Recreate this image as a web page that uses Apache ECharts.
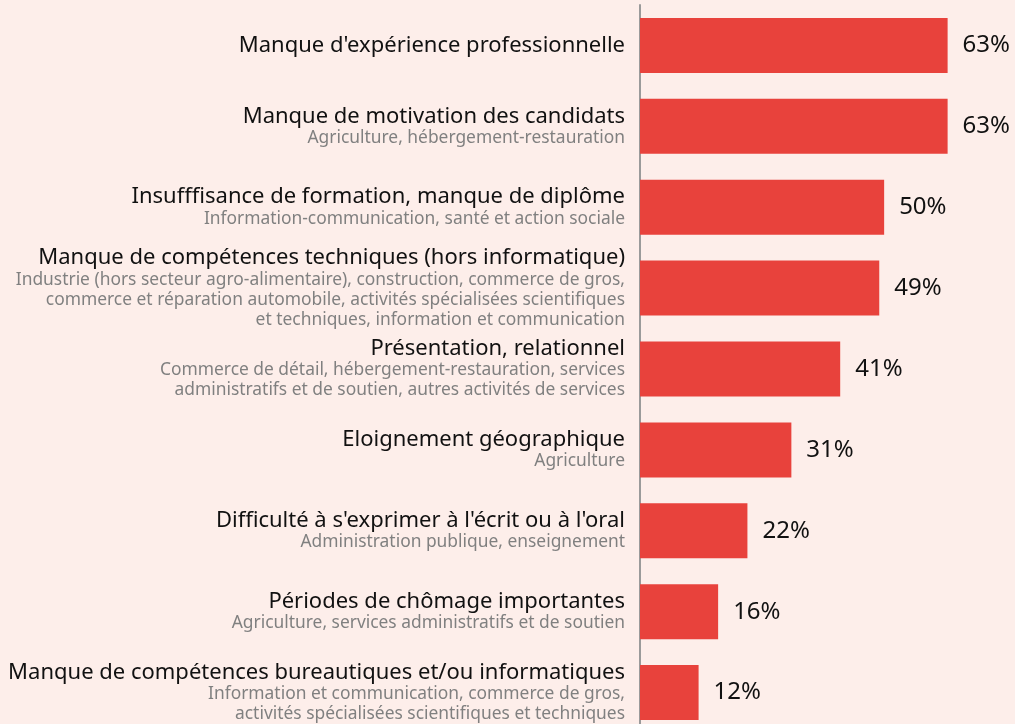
<!DOCTYPE html>
<html>
<head>
<meta charset="utf-8">
<script src="https://cdn.jsdelivr.net/npm/echarts@6/dist/echarts.min.js"></script>
<style>
  html, body { margin: 0; padding: 0; background: #fdeeea; }
  #myChart { width: 1015px; height: 724px; }
</style>
</head>
<body>
<div id="myChart"></div>
<script>
// données
let titres = [
    "Manque d'expérience professionnelle",
    'Manque de motivation des candidats',
    'Insufffisance de formation, manque de diplôme',
    'Manque de compétences techniques (hors informatique)',
    'Présentation, relationnel',
    'Eloignement géographique',
    "Difficulté à s'exprimer à l'écrit ou à l'oral",
    'Périodes de chômage importantes',
    'Manque de compétences bureautiques et/ou informatiques'
]
let secteurs = [
    '',
    'Agriculture, hébergement-restauration',
    'Information-communication, santé et action sociale',
    'Industrie (hors secteur agro-alimentaire), construction, commerce de gros,\ncommerce et réparation automobile, activités spécialisées scientifiques\net techniques, information et communication',
    'Commerce de détail, hébergement-restauration, services\nadministratifs et de soutien, autres activités de services',
    'Agriculture',
    'Administration publique, enseignement',
    'Agriculture, services administratifs et de soutien',
    'Information et communication, commerce de gros,\nactivités spécialisées scientifiques et techniques'
]
let valeurs = [63, 63, 50, 49, 41, 31, 22, 16, 12]

let myChart = echarts.init(document.getElementById('myChart'))

let option = {
    backgroundColor: '#fdeeea',
    textStyle: { fontFamily: 'Noto Sans' },
    grid: {
        left: 640,
        right: 0,
        top: 5,
        height: 728,
        containLabel: false,
        outerBoundsMode: 'none'
    },
    xAxis: {
        type: 'value',
        min: 0,
        max: 76.8,
        show: false
    },
    yAxis: {
        type: 'category',
        data: titres,
        inverse: true,
        axisTick: { show: false },
        axisLine: {
            show: true,
            lineStyle: { color: '#9a9a9a', width: 2 }
        },
        axisLabel: {
            margin: 15,
            formatter: function (value, index) {
                let txt = '{t|' + value + '}'
                if (secteurs[index]) {
                    secteurs[index].split('\n').forEach(function (l) {
                        txt += '\n{s|' + l + '}'
                    })
                }
                return txt
            },
            rich: {
                t: {
                    fontSize: 22,
                    color: '#111111',
                    lineHeight: 23,
                    align: 'right',
                    fontFamily: 'Noto Sans'
                },
                s: {
                    fontSize: 17.4,
                    color: '#808080',
                    lineHeight: 20,
                    align: 'right',
                    fontFamily: 'Noto Sans'
                }
            }
        }
    },
    series: [
        {
            type: 'bar',
            data: valeurs,
            barWidth: 55,
            itemStyle: { color: '#e8423c' },
            label: {
                show: true,
                position: 'right',
                distance: 15,
                formatter: '{c}%',
                color: '#111111',
                fontSize: 24,
                fontFamily: 'Noto Sans'
            }
        }
    ]
}
myChart.setOption(option)
</script>
</body>
</html>
